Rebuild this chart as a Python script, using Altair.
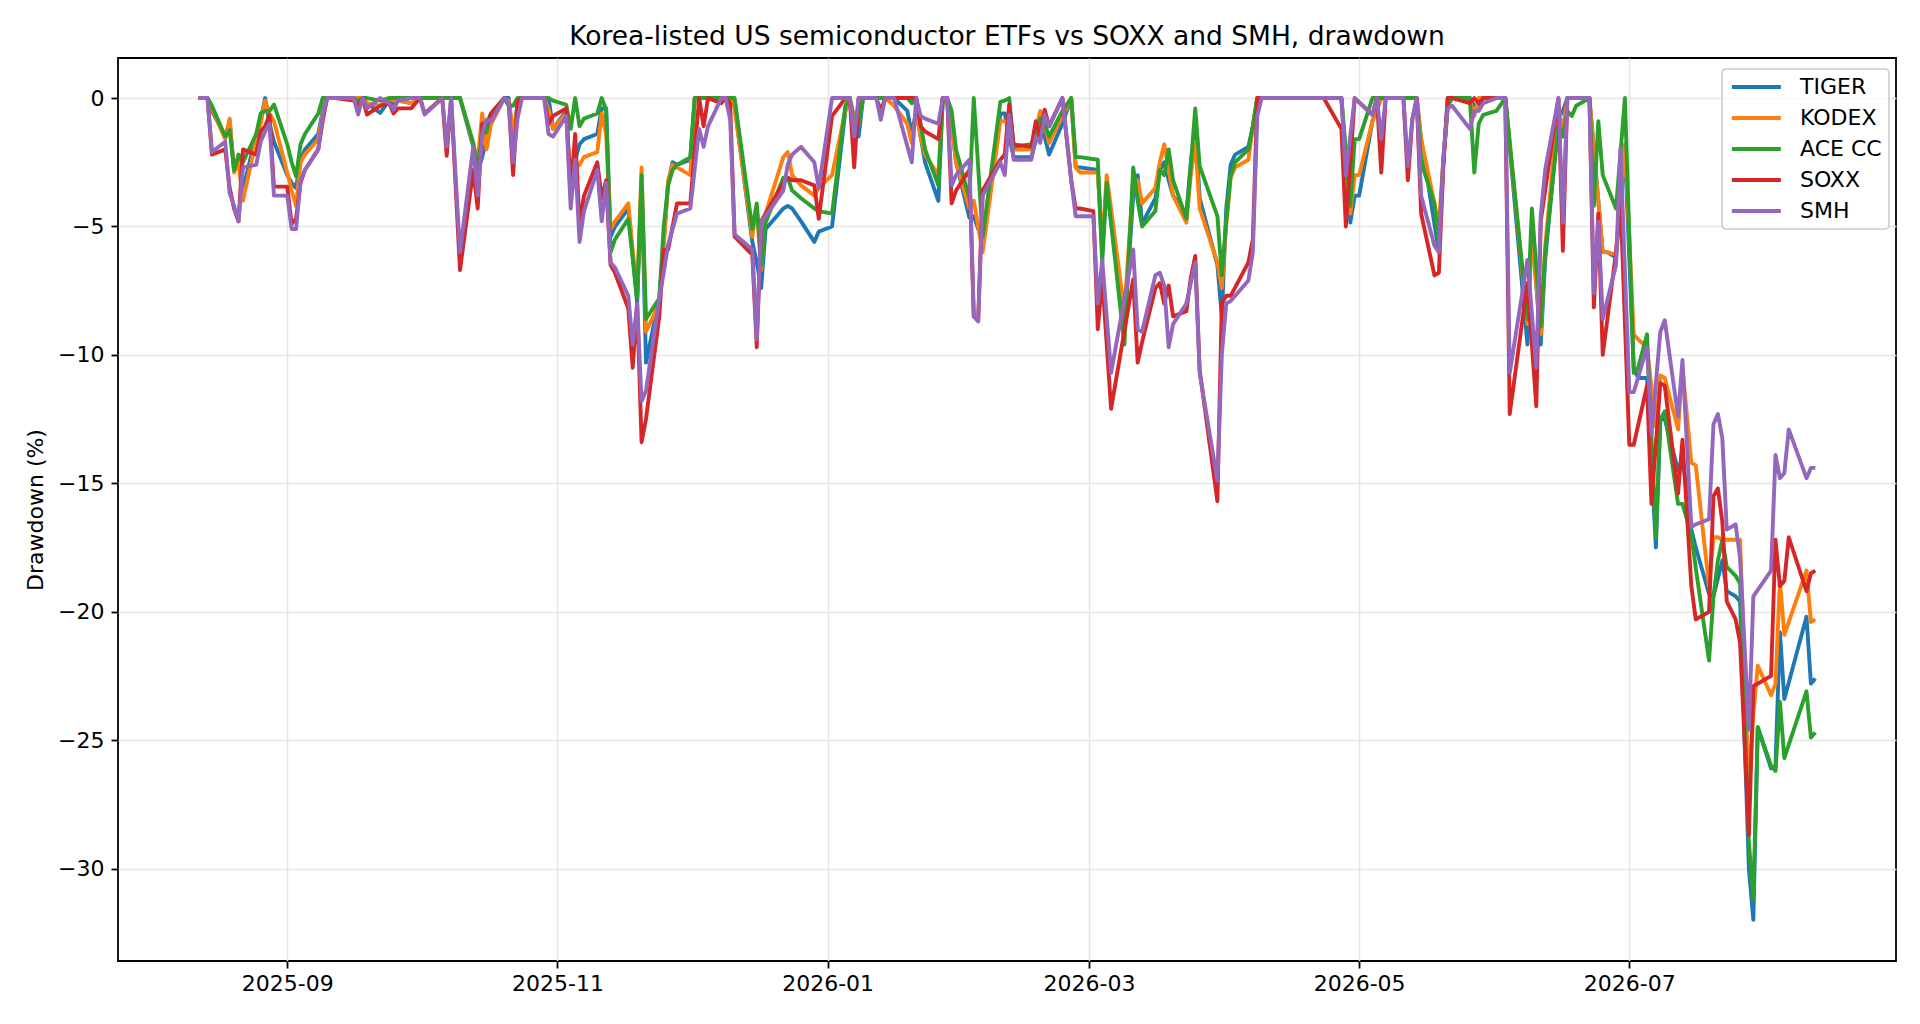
import pandas as pd
import altair as alt

dates = [
    "2025-08-12", "2025-08-14", "2025-08-15", "2025-08-18", "2025-08-19", "2025-08-20",
    "2025-08-21", "2025-08-22", "2025-08-25", "2025-08-26", "2025-08-27", "2025-08-28",
    "2025-08-29", "2025-09-01", "2025-09-02", "2025-09-03", "2025-09-04", "2025-09-05",
    "2025-09-08", "2025-09-09", "2025-09-10", "2025-09-12", "2025-09-16", "2025-09-17",
    "2025-09-18", "2025-09-19", "2025-09-22", "2025-09-24", "2025-09-25", "2025-09-26",
    "2025-09-29", "2025-10-01", "2025-10-02", "2025-10-06", "2025-10-07", "2025-10-08",
    "2025-10-10", "2025-10-13", "2025-10-14", "2025-10-15", "2025-10-16", "2025-10-17",
    "2025-10-20", "2025-10-21", "2025-10-22", "2025-10-23", "2025-10-24", "2025-10-27",
    "2025-10-29", "2025-10-30", "2025-10-31", "2025-11-03", "2025-11-04", "2025-11-05",
    "2025-11-06", "2025-11-07", "2025-11-10", "2025-11-11", "2025-11-12", "2025-11-13",
    "2025-11-14", "2025-11-17", "2025-11-18", "2025-11-19", "2025-11-20", "2025-11-21",
    "2025-11-24", "2025-11-25", "2025-11-26", "2025-11-27", "2025-11-28", "2025-12-01",
    "2025-12-02", "2025-12-03", "2025-12-04", "2025-12-05", "2025-12-08", "2025-12-09",
    "2025-12-10", "2025-12-11", "2025-12-15", "2025-12-16", "2025-12-17", "2025-12-18",
    "2025-12-22", "2025-12-23", "2025-12-24", "2025-12-26", "2025-12-29", "2025-12-30",
    "2026-01-02", "2026-01-05", "2026-01-06", "2026-01-07", "2026-01-08", "2026-01-09",
    "2026-01-12", "2026-01-13", "2026-01-14", "2026-01-16", "2026-01-19", "2026-01-20",
    "2026-01-21", "2026-01-22", "2026-01-23", "2026-01-26", "2026-01-27", "2026-01-28",
    "2026-01-29", "2026-01-30", "2026-02-02", "2026-02-03", "2026-02-04", "2026-02-05",
    "2026-02-09", "2026-02-10", "2026-02-11", "2026-02-12", "2026-02-16", "2026-02-17",
    "2026-02-18", "2026-02-19", "2026-02-20", "2026-02-23", "2026-02-25", "2026-02-26",
    "2026-02-27", "2026-03-02", "2026-03-03", "2026-03-04", "2026-03-05", "2026-03-06",
    "2026-03-09", "2026-03-11", "2026-03-12", "2026-03-13", "2026-03-16", "2026-03-17",
    "2026-03-18", "2026-03-19", "2026-03-20", "2026-03-23", "2026-03-24", "2026-03-25",
    "2026-03-26", "2026-03-30", "2026-03-31", "2026-04-01", "2026-04-02", "2026-04-03",
    "2026-04-06", "2026-04-07", "2026-04-08", "2026-04-09", "2026-04-23", "2026-04-27",
    "2026-04-28", "2026-04-29", "2026-04-30", "2026-05-01", "2026-05-04", "2026-05-05",
    "2026-05-06", "2026-05-07", "2026-05-11", "2026-05-12", "2026-05-13", "2026-05-14",
    "2026-05-15", "2026-05-18", "2026-05-19", "2026-05-20", "2026-05-21", "2026-05-22",
    "2026-05-26", "2026-05-27", "2026-05-28", "2026-05-29", "2026-06-01", "2026-06-03",
    "2026-06-04", "2026-06-08", "2026-06-09", "2026-06-10", "2026-06-11", "2026-06-12",
    "2026-06-15", "2026-06-16", "2026-06-17", "2026-06-18", "2026-06-19", "2026-06-22",
    "2026-06-23", "2026-06-24", "2026-06-25", "2026-06-26", "2026-06-28", "2026-06-29",
    "2026-06-30", "2026-07-01", "2026-07-02", "2026-07-03", "2026-07-05", "2026-07-06",
    "2026-07-07", "2026-07-08", "2026-07-09", "2026-07-12", "2026-07-13", "2026-07-15",
    "2026-07-16", "2026-07-19", "2026-07-20", "2026-07-21", "2026-07-22", "2026-07-23",
    "2026-07-25", "2026-07-26", "2026-07-28", "2026-07-29", "2026-07-30", "2026-08-02",
    "2026-08-03", "2026-08-04", "2026-08-05", "2026-08-06", "2026-08-10", "2026-08-11",
    "2026-08-12",
]

tiger = [
    0, 0, -0.5, -1.5, -0.9, -2.8, -2.3, -3.6, -1.4, -0.9, 0, -1.0,
    -1.7, -3.0, -3.3, -3.5, -2.4, -2.0, -1.4, -0.5, 0, 0, 0, 0,
    0, -0.2, -0.58, -0.1, -0.2, -0.1, -0.2, 0, 0, None, None, None,
    0, -1.9, -2.9, -2.3, -1.6, -1.0, 0, 0, -1.6, -0.2, 0, 0,
    0, 0, -1.2, -0.5, -3.9, -2.4, -1.8, -1.6, -1.4, -0.4, -0.4, -5.4,
    -5.0, -4.3, None, -8.0, -3.3, -10.3, -7.8, -5.6, -3.3, -2.5, -2.6, -2.4,
    0, 0, 0, 0, 0, 0, 0, -0.3, -5.6, -6.4, -7.4, -5.1,
    -4.3, -4.2, -4.3, -4.8, -5.6, -5.2, -5.0, -0.5, 0, -0.8, -1.5, 0,
    0, 0, 0, 0, -0.5, -1.4, -0.5, -1.5, -2.5, -4.0, 0, 0,
    -1.0, -2.5, -4.65, -4.6, None, -5.6, -0.6, -0.6, -1.5, -2.3, -2.3, None,
    -1.0, -1.5, -2.2, -1.0, 0, -2.7, -2.7, None, -2.8, -6.0, -3.4, None,
    -9.0, -3.8, -3.0, -4.9, -3.9, -2.8, -2.5, -3.2, -3.8, -4.5, -2.5, -1.1,
    -3.9, -6.5, -8.5, -4.3, -2.6, -2.2, -1.9, -1.1, 0, 0, 0, 0,
    None, -4.85, -3.8, -3.8, -0.9, None, 0, 0, 0, 0, 0, 0,
    -1.6, -4.9, -6.0, -2.5, 0, 0, 0, -0.3, -0.3, 0, 0, 0,
    None, -9.6, -5.0, None, -9.6, -6.3, -0.8, -0.5, 0, 0, 0, 0,
    None, None, -6.0, -6.0, -6.2, None, -2.0, None, -10.5, -10.9, -10.9, None,
    -17.5, -12.5, -12.5, -14.5, -14.0, -16.8, -17.5, -19.3, -19.4, -18.7, -18.0, -19.2,
    -19.4, -19.6, -30.0, -32.0, -24.5, -26.1, -26.0, -20.8, -23.4, None, -20.2, -22.8,
    -22.6,
]

kodex = [
    0, 0, -0.4, -1.6, -0.8, -2.9, -2.5, -4.0, -1.6, -1.0, -0.1, -0.6,
    -0.9, -2.9, -3.6, -4.2, -2.5, -2.2, -1.6, -0.6, 0, 0, 0, 0,
    0, -0.2, -0.3, 0, -0.1, -0.1, -0.2, 0, 0, None, None, None,
    0, -1.8, -2.5, -0.6, -2.0, -1.0, 0, -0.1, -1.4, -0.3, 0, 0,
    0, -0.45, -1.2, -0.6, -3.7, -2.7, -2.6, -2.3, -2.1, -0.6, -1.4, -5.1,
    -4.8, -4.1, None, -7.7, -2.7, -9.1, -8.0, -5.8, -3.2, -2.6, -2.7, -3.0,
    0, 0, 0, 0, 0, 0, 0, -0.4, -5.4, -4.2, -6.7, -4.5,
    -2.3, -2.1, -3.0, -3.4, -3.8, -3.5, -3.0, -0.5, 0, -0.8, -1.0, 0,
    0, 0, 0, -0.3, -1.0, -1.75, -0.5, -1.5, -2.2, -3.0, 0, -0.2,
    -1.0, -2.5, -4.3, -4.0, None, -6.0, -0.9, -0.9, -1.0, -2.0, -2.0, None,
    -0.5, -1.0, -1.75, -0.7, 0, -2.7, -2.9, None, -2.9, -5.8, -3.0, None,
    -8.3, -3.2, -3.2, -4.1, -3.5, -2.5, -1.8, -2.8, -3.8, -4.85, -3.0, -1.7,
    -4.3, -6.4, -7.4, -4.9, -3.1, -2.7, -2.4, -1.1, 0, 0, 0, 0,
    None, -4.5, -3.0, -3.0, -0.9, None, 0, 0, 0, 0, 0, 0,
    -1.6, -4.1, -5.0, -2.4, -0.3, 0, -0.1, -0.7, 0, 0, 0, 0,
    None, -8.8, -5.3, None, -9.2, -5.8, -0.3, -1.35, 0, 0, 0, 0,
    None, None, -6.0, -6.0, -6.1, None, -1.8, None, -9.2, -9.4, -9.7, None,
    -12.8, -10.8, -10.9, -12.9, -10.5, -14.2, -14.3, -19.0, -17.1, -17.1, -17.2, -17.2,
    -17.2, -17.2, -26.9, -24.0, -22.1, -23.25, -22.8, -18.8, -20.9, None, -18.4, -20.4,
    -20.3,
]

ace_cc = [
    0, 0, -0.3, -1.5, -1.25, -2.8, -2.2, -2.5, -1.4, -0.6, -0.5, -0.5,
    -0.25, -1.8, -2.5, -3.05, -1.8, -1.4, -0.6, 0, 0, 0, 0, -0.1,
    0, 0, -0.1, 0, 0, 0, 0, 0, 0, None, None, None,
    0, -1.75, -2.8, -1.4, -1.3, -0.6, 0, -0.3, -0.3, 0, 0, 0,
    0, 0, -0.1, -0.26, -1.2, 0, -1.1, -0.8, -0.6, 0, -0.45, -6.0,
    -5.5, -4.7, None, -7.8, -3.0, -8.6, -7.8, -5.0, -3.4, -2.8, -2.6, -2.3,
    0, 0, 0, 0, 0, 0, 0, 0, -5.1, -4.1, -6.5, -4.85,
    -3.1, -3.1, -3.6, -3.9, -4.3, -4.4, -4.5, -0.3, 0, -1.0, -1.0, 0,
    0, 0, 0, 0, 0, -0.2, 0, -1.0, -2.0, -3.4, 0, 0,
    -0.5, -2.0, -3.9, 0, None, -5.4, -0.15, -0.1, 0, -1.9, -1.8, None,
    -0.8, -1.0, -1.5, -0.5, 0, -2.3, -2.3, None, -2.4, -6.4, -3.3, None,
    -9.6, -2.7, -4.0, -5.0, -4.4, -2.8, -3.0, -2.0, -3.2, -4.7, -2.6, -0.4,
    -2.65, -4.6, -6.9, -4.8, -3.0, -2.5, -2.0, -1.1, 0, 0, 0, 0,
    None, -4.2, -1.6, -1.6, 0, None, 0, 0, 0, 0, 0, 0,
    -2.5, -4.1, -5.75, -2.5, -0.3, 0, 0, -2.9, -1.0, -0.65, -0.5, 0,
    None, -8.6, -4.3, None, -8.9, -6.0, -1.1, -1.5, -0.5, -0.7, -0.3, 0,
    -4.2, -0.9, -3.0, None, -4.3, None, 0, None, -10.7, -10.5, -9.2, None,
    -17.1, -12.5, -12.2, -15.8, -15.8, -17.0, -18.3, -21.9, -19.4, -18.0, -17.2, -18.25,
    -18.6, -18.9, -29.0, -31.2, -24.5, -26.0, -26.2, -23.5, -25.7, None, -23.1, -24.9,
    -24.7,
]

soxx = [
    0, 0, -2.2, -2.0, -3.5, -4.3, -4.8, -2.0, -2.2, -1.3, -1.1, -0.66,
    -3.45, -3.45, -4.9, -4.7, -3.3, -2.8, -2.0, -0.9, 0, 0, -0.1, -0.3,
    0, -0.64, -0.3, -0.2, -0.6, -0.4, -0.4, 0, -0.6, 0, -2.25, 0,
    -6.7, -2.8, -4.3, -1.0, -1.0, -0.6, 0, -0.2, -3.0, -0.1, 0, 0,
    0, -1.0, -0.7, -0.4, -3.6, -1.4, -4.9, -3.8, -2.5, -3.9, -3.2, -6.5,
    -6.8, -8.2, -10.5, -8.0, -13.4, -12.5, -8.5, -5.9, -5.9, None, -4.1, -4.1,
    None, 0, -1.1, 0, -0.2, 0, -0.2, -5.4, -6.1, -9.7, -4.8, -4.5,
    -3.3, -3.1, -3.2, -3.2, -3.4, -4.7, -0.7, 0, 0, -2.7, 0, 0,
    0, -0.5, 0, 0, None, 0, 0, -1.1, -1.3, -1.6, 0, 0,
    -4.1, -3.6, -2.8, -8.5, -8.6, -3.6, -2.4, -2.2, -0.25, -1.8, -1.9, -0.9,
    -1.5, -0.45, -1.1, 0, -3.2, -4.3, -4.3, -4.4, -9.0, -7.0, None, -12.1,
    None, -7.05, -10.3, -9.5, -7.4, -7.2, -8.0, -7.3, -8.5, -8.3, -7.0, -6.15,
    -10.6, -15.7, -8.0, -7.7, -7.7, None, -6.4, -5.5, 0, 0, 0, -1.2,
    -5.0, None, 0, None, -0.65, 0, -2.9, 0, 0, -3.2, -0.85, 0,
    -4.5, -6.9, -6.8, -2.7, 0, 0, -0.2, 0, -0.2, 0, 0, 0,
    -12.3, -7.2, None, -12.0, -4.8, -3.6, 0, -5.95, 0, 0, 0, 0,
    -8.15, -4.5, -10.0, None, -6.0, -3.9, None, -13.5, -13.5, None, -11.2, -15.8,
    None, -11.1, -11.2, -15.4, -13.3, -19.0, -20.3, -20.0, -15.5, -15.2, -16.5, -19.6,
    -20.3, -21.2, -28.7, -22.9, None, -22.5, -17.2, -19.0, -18.8, -17.1, -19.2, -18.5,
    -18.4,
]

smh = [
    0, 0, -2.1, -1.7, -3.7, -4.2, -4.8, -2.7, -2.6, -1.7, -1.3, -1.0,
    -3.8, -3.8, -5.1, -5.1, -3.2, -2.8, -2.0, -0.7, 0, 0, 0, -0.64,
    0, -0.4, 0, -0.2, -0.45, -0.1, 0, 0, -0.64, 0, -1.9, 0,
    -6.0, -1.9, -3.8, -1.4, -0.84, -0.9, 0, -0.2, -2.5, -0.8, 0, 0,
    0, -1.4, -1.5, -0.7, -4.3, -2.4, -5.6, -4.4, -2.8, -4.8, -3.3, -6.4,
    -6.6, -7.7, -9.6, -8.0, -11.8, -11.4, -7.8, -6.8, -5.7, None, -4.5, -4.3,
    None, -1.2, -1.9, -1.1, 0, 0, -0.85, -5.3, -5.9, -9.4, -4.85, -4.6,
    -3.6, -2.6, -2.2, -1.9, -2.5, -3.5, 0, 0, 0, -1.5, 0, 0,
    0, -0.85, 0, 0, None, -2.5, 0, -0.7, -0.8, -1.0, 0, 0,
    -3.4, -3.0, -2.4, -8.5, -8.7, -3.8, -2.5, -3.0, -0.65, -2.4, -2.4, -1.5,
    -1.75, -0.65, -1.1, 0, -3.2, -4.6, -4.6, -4.6, -8.0, -6.3, None, -10.7,
    None, -5.9, -9.0, -9.1, -6.9, -6.8, -7.3, -9.7, -8.8, -8.0, -7.2, -6.4,
    -10.7, -14.9, -10.0, -8.0, -7.9, None, -7.1, -6.0, -0.7, 0, 0, 0,
    -3.0, None, 0, None, -0.65, 0, -1.6, 0, 0, -2.65, -0.85, 0,
    -3.8, -5.75, -6.0, -2.4, -0.4, -0.3, -1.2, -0.5, -0.5, -0.2, 0, 0,
    -10.7, -6.3, None, -10.5, -4.6, -2.8, 0, -4.85, 0, 0, 0, 0,
    -7.6, -4.8, -8.6, None, -6.5, -1.95, None, -11.45, -11.45, None, -9.7, -13.1,
    None, -9.1, -8.65, -12.4, -10.2, -16.7, -16.6, -16.4, -12.7, -12.3, -13.25, -16.8,
    -16.6, -17.9, -24.6, -19.4, None, -18.4, -13.9, -14.8, -14.6, -12.9, -14.8, -14.4,
    -14.4,
]

series_names = ["TIGER", "KODEX", "ACE CC", "SOXX", "SMH"]
series_colors = ["#1f77b4", "#ff7f0e", "#2ca02c", "#d62728", "#9467bd"]
tick_months = [(2025, 9), (2025, 11), (2026, 1), (2026, 3), (2026, 5), (2026, 7)]
y_ticks = [0, -5, -10, -15, -20, -25, -30]

wide = pd.DataFrame({"date": dates, "TIGER": tiger, "KODEX": kodex,
                     "ACE CC": ace_cc, "SOXX": soxx, "SMH": smh})
df = wide.melt(id_vars="date", value_vars=series_names, var_name="fund", value_name="dd")
df = df.dropna().reset_index(drop=True)

font = "DejaVu Sans"

chart = alt.Chart(df).mark_line(strokeWidth=3.9, strokeJoin="round").encode(
    x=alt.X(
        "date:T",
        scale=alt.Scale(
            type="utc",
            domain=[alt.DateTime(year=2025, month=7, date=24, hours=19, utc=True),
                    alt.DateTime(year=2026, month=8, date=30, hours=5, utc=True)],
        ),
        axis=alt.Axis(
            values=[alt.DateTime(year=y, month=m, date=1, utc=True) for y, m in tick_months],
            labelExpr="utcFormat(datum.value, '%Y-%m')", title=None,
            labelFontSize=22, labelPadding=5, tickSize=7,
        ),
    ),
    y=alt.Y(
        "dd:Q",
        scale=alt.Scale(domain=[-33.6, 1.56], nice=False, zero=False),
        axis=alt.Axis(
            values=y_ticks, format="d", title="Drawdown (%)",
            labelFontSize=22, labelPadding=7, tickSize=7,
            titleFontSize=22, titleFontWeight="normal", titlePadding=10,
        ),
    ),
    color=alt.Color(
        "fund:N",
        scale=alt.Scale(domain=series_names, range=series_colors),
        legend=alt.Legend(
            title=None, orient="none", legendX=1604, legendY=11,
            symbolType="M-1,0H5", symbolSize=267, symbolStrokeWidth=3.9,
            labelFontSize=22, labelFont=font, labelColor="black", labelOffset=49,
            padding=7, rowPadding=9, strokeColor="#cccccc", fillColor="rgba(255,255,255,0.8)",
            cornerRadius=4,
        ),
    ),
).properties(
    width=1778,
    height=903,
    autosize=alt.AutoSizeParams(type="none"),
    padding={"left": 110, "top": 50, "right": 10, "bottom": 50},
    title=alt.TitleParams(
        "Korea-listed US semiconductor ETFs vs SOXX and SMH, drawdown",
        fontSize=26.5, fontWeight="normal", font=font, color="black",
        anchor="middle", offset=8,
    ),
).configure_view(
    stroke="black", strokeWidth=1.8
).configure_axis(
    domain=False, grid=True, gridColor="#e6e6e6", gridWidth=1.5,
    tickColor="black", tickWidth=1.8, labelColor="black", titleColor="black",
    labelFont=font, titleFont=font,
).configure_legend(
    strokeWidth=1.6
)

chart.save("out.html", embed_options={"renderer": "svg", "actions": False})
